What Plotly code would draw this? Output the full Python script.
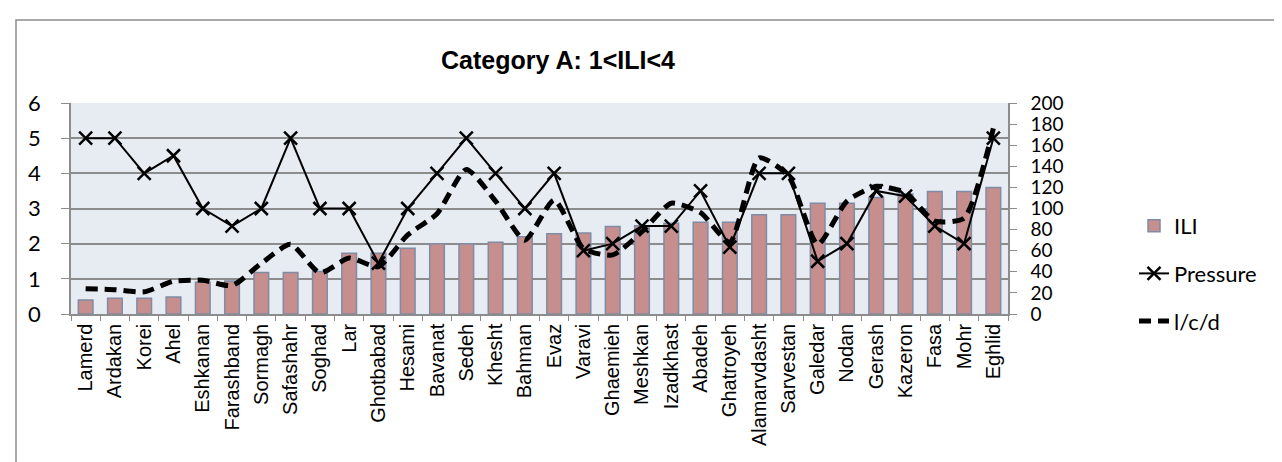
import plotly.graph_objects as go

categories = ["Lamerd", "Ardakan", "Korei", "Ahel", "Eshkanan", "Farashband", "Sormagh",
              "Safashahr", "Soghad", "Lar", "Ghotbabad", "Hesami", "Bavanat", "Sedeh",
              "Khesht", "Bahman", "Evaz", "Varavi", "Ghaemieh", "Meshkan", "Izadkhast",
              "Abadeh", "Ghatroyeh", "Alamarvdasht", "Sarvestan", "Galedar", "Nodan",
              "Gerash", "Kazeron", "Fasa", "Mohr", "Eghlid"]

ili = [0.40, 0.45, 0.45, 0.48, 0.90, 0.94, 1.18, 1.18, 1.21, 1.73, 1.73, 1.87, 2.00, 2.00,
       2.04, 2.20, 2.28, 2.30, 2.49, 2.51, 2.58, 2.61, 2.61, 2.82, 2.82, 3.15, 3.15, 3.31,
       3.41, 3.48, 3.48, 3.60]

pressure = [5, 5, 4, 4.5, 3, 2.5, 3, 5, 3, 3, 1.45, 3, 4, 5, 4, 3, 4, 1.8, 2, 2.5, 2.5,
            3.5, 1.9, 4, 4, 1.5, 2, 3.5, 3.35, 2.5, 2, 5]

lcd = [24, 23, 21, 31, 32, 27, 48, 66, 39, 53, 45, 75, 95, 137, 107, 70, 108, 62, 56, 78,
       105, 96, 68, 148, 131, 66, 107, 121, 115, 88, 91, 176]

W, H = 1282, 462
L, R, T, B = 63, 1000, 95, 306

def px(x):
    return (x - L) / (R - L)

def py(y):
    return (B - y) / (B - T)

NUM_FONT = "Lato, Carlito, sans-serif"

fig = go.Figure()
fig.add_trace(go.Bar(
    x=categories, y=ili, name="ILI", width=0.5,
    marker=dict(color="#C68E8C", line=dict(color="#7F8CA6", width=1.5)),
))
fig.add_trace(go.Scatter(
    x=categories, y=pressure, name="Pressure", mode="lines+markers",
    line=dict(color="black", width=2),
    marker=dict(symbol="x-thin", size=13, color="black", line=dict(color="black", width=2.5)),
))
fig.add_trace(go.Scatter(
    x=categories, y=lcd, name="l/c/d", mode="lines", yaxis="y2",
    line=dict(color="black", width=5, dash="12px,7px", shape="spline", smoothing=0.6),
))

fig.update_layout(
    width=W, height=H,
    margin=dict(l=L, r=W - R, t=T, b=H - B, autoexpand=False),
    paper_bgcolor="white",
    plot_bgcolor="#E7EBF2",
    showlegend=True,
    title=dict(text="<b>Category A: 1<ILI<4</b>", x=550 / W, xanchor="center",
               y=1 - 52 / H, yanchor="middle", yref="container",
               font=dict(family="Liberation Sans, Arial", size=25, color="black")),
    xaxis=dict(range=[-0.5, 31.5], tickangle=-90,
               tickfont=dict(family="Liberation Sans, Arial", size=20, color="black"),
               ticks="outside", tickson="boundaries", ticklen=5, tickcolor="#8C8C8C",
               showline=True, linecolor="#8C8C8C", linewidth=1.5, showgrid=False),
    yaxis=dict(range=[0, 6], dtick=1, tickfont=dict(family=NUM_FONT, size=22, color="black"),
               ticks="outside", ticklen=8, tickcolor="#8C8C8C", showline=True, linecolor="#8C8C8C",
               linewidth=1.5, gridcolor="#8C8C8C", gridwidth=1.5, zeroline=False,
               ticklabelstandoff=16),
    yaxis2=dict(range=[0, 200], dtick=20, overlaying="y", side="right",
                tickfont=dict(family=NUM_FONT, size=19, color="black"),
                ticks="outside", ticklen=7, tickcolor="#8C8C8C", showline=True, linecolor="#8C8C8C",
                linewidth=1.5, showgrid=False, zeroline=False, ticklabelstandoff=10),
    legend=dict(x=px(1126), y=py(197), xanchor="left", yanchor="top",
                font=dict(family=NUM_FONT, size=22, color="black"),
                bgcolor="rgba(0,0,0,0)", tracegroupgap=16),
    shapes=[dict(type="rect", xref="paper", yref="paper",
                 x0=px(8), x1=px(1300), y0=py(480), y1=py(12),
                 line=dict(color="#8C8C8C", width=1.5), fillcolor="rgba(0,0,0,0)", layer="below")],
)
for i, tr in enumerate(fig.data):
    tr.legendgroup = str(i)

fig.write_html("out.html")
